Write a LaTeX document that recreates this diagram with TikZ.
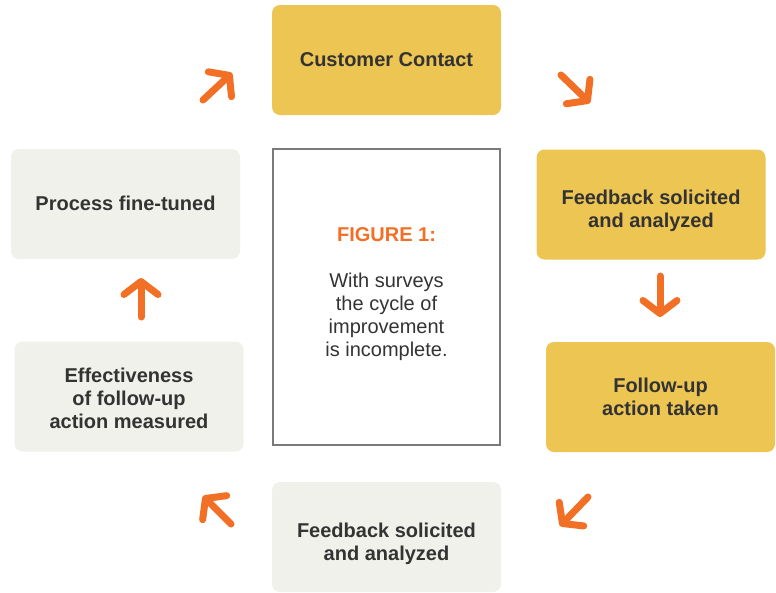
\documentclass[tikz,border=0pt]{standalone}
\usepackage{fontspec}
\setmainfont{Liberation Sans}
\usetikzlibrary{arrows.meta}
\definecolor{gold}{HTML}{EDC552}
\definecolor{lightbox}{HTML}{F1F1EC}
\definecolor{orangeA}{HTML}{F26F26}
\definecolor{textdark}{HTML}{333333}
\definecolor{framegray}{HTML}{7A7A7A}
\tikzset{
  boxbase/.style={rounded corners=8pt, minimum width=229pt, minimum height=110pt, inner sep=0pt},
  goldbox/.style={boxbase, fill=gold},
  greybox/.style={boxbase, fill=lightbox},
  boxtext/.style={align=center, text=textdark, font=\fontsize{20}{23}\selectfont\bfseries},
  framebox/.style={draw=framegray, line width=2.5pt, minimum width=227pt, minimum height=296pt, inner sep=0pt, align=center},
  orangearrow/.style={draw=orangeA, line width=7pt, line cap=round, -{Straight Barb[length=13pt, width=34pt, line cap=round, line join=round]}}
}
\begin{document}
\begin{tikzpicture}[x=1pt, y=-1pt]
\useasboundingbox (0,0) rectangle (776,592);
\node[goldbox] (cc) at (386.5,60) {};
\node[boxtext] (cct) at (386.5,60) {Customer Contact};
\node[goldbox] (fs1) at (651,204.5) {};
\node[boxtext] (fs1t) at (651,211) {Feedback solicited\\and analyzed};
\node[goldbox] (fu) at (660.5,397) {};
\node[boxtext] (fut) at (660.5,397) {Follow-up\\action taken};
\node[greybox] (fs2) at (386.5,537) {};
\node[boxtext] (fs2t) at (386.5,544) {Feedback solicited\\and analyzed};
\node[greybox] (em) at (129,396.5) {};
\node[boxtext] (emt) at (129,398) {Effectiveness\\of follow-up\\action measured};
\node[greybox] (pf) at (125.5,204) {};
\node[boxtext] (pft) at (125.5,203) {Process fine-tuned};
\node[framebox] (fig) at (386.5,297) {};
\node[font=\fontsize{20}{23}\selectfont\bfseries, text=orangeA] (figt) at (386.5,235) {FIGURE 1:};
\node[font=\fontsize{20}{23}\selectfont, text=textdark, align=center] (figb) at (386.5,317) {With surveys\\the cycle of\\improvement\\is incomplete.};
\coordinate (a1s) at (203,100); \coordinate (a1e) at (232,73);
\coordinate (a2s) at (561,75); \coordinate (a2e) at (590,103);
\coordinate (a3s) at (660,276); \coordinate (a3e) at (660,317);
\coordinate (a4s) at (588,497); \coordinate (a4e) at (560,526);
\coordinate (a5s) at (231,524); \coordinate (a5e) at (203,496);
\coordinate (a6s) at (141,317); \coordinate (a6e) at (141,278);
\draw[orangearrow] (a1s) -- (a1e);
\draw[orangearrow] (a2s) -- (a2e);
\draw[orangearrow] (a3s) -- (a3e);
\draw[orangearrow] (a4s) -- (a4e);
\draw[orangearrow] (a5s) -- (a5e);
\draw[orangearrow] (a6s) -- (a6e);
\end{tikzpicture}
\end{document}
